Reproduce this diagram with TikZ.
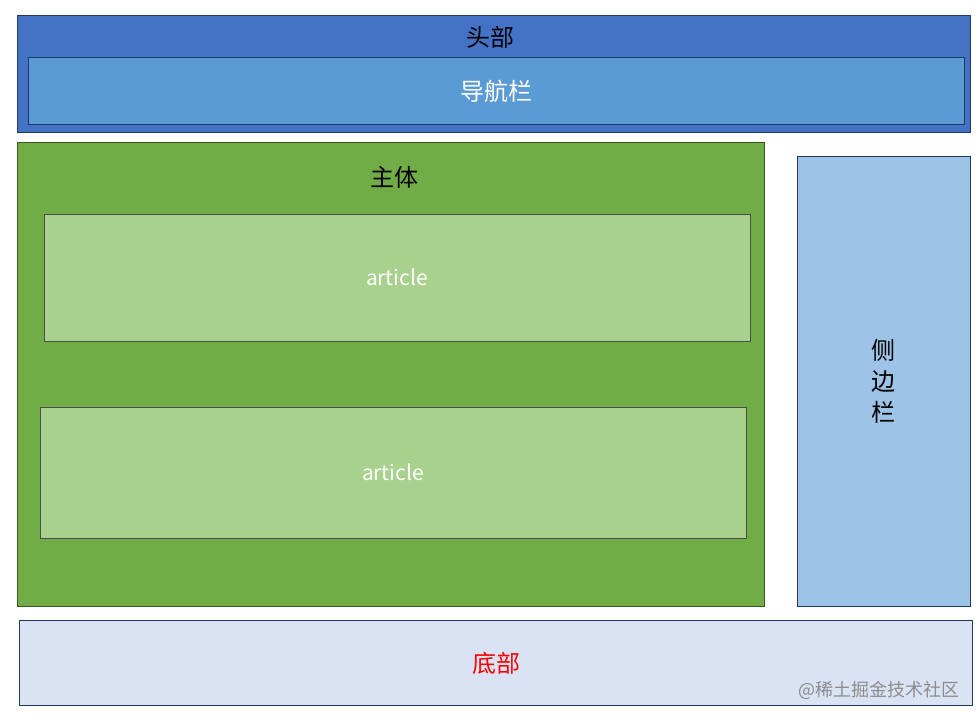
\documentclass[tikz,border=0pt]{standalone}
\usepackage{fontspec}
\setmainfont{Noto Sans CJK SC}
\usetikzlibrary{positioning}
\definecolor{headblue}{HTML}{4472C4}
\definecolor{navblue}{HTML}{5B9BD5}
\definecolor{mainGreen}{HTML}{70AD47}
\definecolor{artGreen}{HTML}{A9D18E}
\definecolor{sideBlue}{HTML}{9DC3E6}
\definecolor{footBlue}{HTML}{DAE3F3}
\definecolor{edgeBlue}{HTML}{1F3864}
\definecolor{edgeGreen}{HTML}{385723}

\begin{document}
\begin{tikzpicture}[x=1pt, y=-1pt,
    box/.style={rectangle, draw=edgeBlue, line width=1pt, inner sep=0pt},
    label/.style={font=\fontsize{24}{28}\selectfont, inner sep=0pt}
]
\useasboundingbox (0,0) rectangle (980,721);

% header and navigation
\node[box, fill=headblue, minimum width=953pt, minimum height=117pt] (head) at (493.5,73.5) {};
\node[box, fill=navblue, minimum width=936pt, minimum height=67pt] (nav) at (496,90.5) {};
\node[label] (headtext) at (490,37) {头部};
\node[label, text=white] (navtext) at (496,91) {导航栏};

% main part with two articles
\node[box, draw=edgeGreen, fill=mainGreen, minimum width=747pt, minimum height=464pt] (main) at (390.5,374) {};
\node[label] (maintext) at (394,177) {主体};
\node[box, draw=black!70, fill=artGreen, minimum width=706pt, minimum height=127pt] (art1) at (397,277.5) {};
\node[box, draw=black!70, fill=artGreen, minimum width=706pt, minimum height=131pt] (art2) at (393,472.5) {};
\node[label, text=white, font=\fontsize{21}{25}\selectfont] (art1text) at (art1.center) {article};
\node[label, text=white, font=\fontsize{21}{25}\selectfont] (art2text) at (art2.center) {article};

% sidebar
\node[box, fill=sideBlue, minimum width=173pt, minimum height=450pt] (side) at (883.5,381) {};
\node[label, align=center, font=\fontsize{24}{31}\selectfont] (sidetext) at (side.center) {侧\\边\\栏};

% footer
\node[box, fill=footBlue, minimum width=953pt, minimum height=85pt] (foot) at (495.5,662.5) {};
\node[label, text=red] (foottext) at (496,663) {底部};
\node[inner sep=0pt, anchor=east, text=black!45, font=\fontsize{18}{20}\selectfont] (mark) at (960,690) {@稀土掘金技术社区};
\end{tikzpicture}
\end{document}
